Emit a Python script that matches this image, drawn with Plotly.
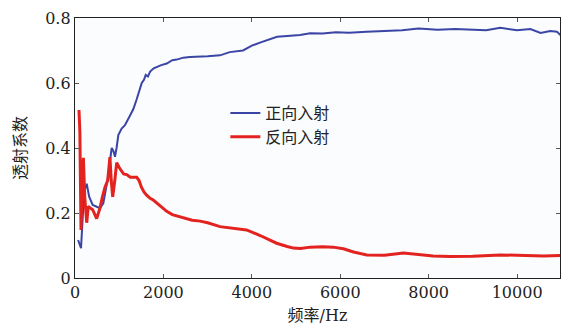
import plotly.graph_objects as go

# Forward incidence (正向入射) transmission coefficient vs frequency
freq_fwd = [70, 100, 136, 180, 220, 265, 320, 400, 490, 565, 640, 700, 760, 800,
            830, 870, 905, 940, 980, 1055, 1130, 1245, 1320, 1395, 1460, 1510,
            1560, 1600, 1650, 1700, 1780, 1850, 1950, 2075, 2200, 2300, 2450,
            2600, 2830, 3000, 3280, 3500, 3800, 4000, 4200, 4400, 4570, 4800,
            5090, 5320, 5600, 5900, 6200, 6600, 7000, 7400, 7770, 8200, 8600,
            8940, 9300, 9620, 10000, 10300, 10530, 10750, 10900, 11000]
trans_fwd = [0.117, 0.105, 0.092, 0.20, 0.27, 0.29, 0.25, 0.225, 0.22, 0.215,
             0.23, 0.28, 0.32, 0.37, 0.40, 0.39, 0.373, 0.40, 0.44, 0.46, 0.47,
             0.50, 0.52, 0.55, 0.58, 0.60, 0.61, 0.625, 0.62, 0.635, 0.645,
             0.65, 0.655, 0.66, 0.67, 0.672, 0.678, 0.68, 0.68, 0.682, 0.685,
             0.695, 0.70, 0.715, 0.725, 0.735, 0.742, 0.745, 0.748, 0.753,
             0.752, 0.756, 0.755, 0.758, 0.76, 0.762, 0.768, 0.764, 0.766,
             0.765, 0.762, 0.770, 0.762, 0.766, 0.754, 0.76, 0.758, 0.745]

# Reverse incidence (反向入射) transmission coefficient vs frequency
freq_rev = [90, 110, 136, 160, 190, 220, 265, 300, 350, 400, 490, 565, 620, 680,
            740, 790, 820, 853, 900, 943, 1000, 1100, 1170, 1250, 1395, 1450,
            1500, 1560, 1620, 1700, 1770, 1850, 1950, 2075, 2200, 2375, 2500,
            2650, 2830, 3000, 3280, 3500, 3880, 4200, 4560, 4800, 4940, 5100,
            5320, 5600, 5840, 6070, 6300, 6600, 7000, 7430, 7800, 8100, 8480,
            9000, 9620, 10200, 10600, 10970]
trans_rev = [0.517, 0.45, 0.148, 0.30, 0.37, 0.25, 0.17, 0.22, 0.215, 0.21,
             0.183, 0.215, 0.25, 0.28, 0.30, 0.372, 0.30, 0.25, 0.30, 0.355,
             0.34, 0.32, 0.318, 0.31, 0.31, 0.30, 0.28, 0.265, 0.255, 0.245,
             0.24, 0.23, 0.22, 0.205, 0.195, 0.188, 0.182, 0.178, 0.175, 0.17,
             0.158, 0.155, 0.148, 0.13, 0.107, 0.097, 0.092, 0.091, 0.095,
             0.096, 0.095, 0.09, 0.08, 0.071, 0.07, 0.077, 0.072, 0.068, 0.066,
             0.067, 0.071, 0.069, 0.068, 0.069]

x_ticks = [0, 2000, 4000, 6000, 8000, 10000]
x_tick_text = ["0", "2000", "4000", "6000", "8000", "10000"]
y_ticks = [0, 0.2, 0.4, 0.6, 0.8]
y_tick_text = ["0", "0.2", "0.4", "0.6", "0.8"]

FONT = "DejaVu Serif, Noto Sans CJK SC, serif"

fig = go.Figure()
fig.add_trace(go.Scatter(x=freq_fwd, y=trans_fwd, mode="lines", name="正向入射",
                         line=dict(color="#3b45a6", width=2)))
fig.add_trace(go.Scatter(x=freq_rev, y=trans_rev, mode="lines", name="反向入射",
                         line=dict(color="#e3231f", width=3)))

axis_common = dict(showline=True, linecolor="#222", linewidth=1.3, mirror="ticks",
                   ticks="inside", ticklen=4, tickcolor="#555", showgrid=False,
                   zeroline=False, tickfont=dict(family=FONT, size=16, color="#222"))

fig.update_layout(
    width=566, height=329,
    margin=dict(l=75, r=6, t=18, b=51),
    paper_bgcolor="white", plot_bgcolor="#fbfcfd",
    font=dict(family=FONT, color="#222"),
    xaxis=dict(range=[0, 10970], tickvals=x_ticks, ticktext=x_tick_text,
               title=dict(text="频率/Hz", font=dict(family=FONT, size=16), standoff=8),
               **axis_common),
    yaxis=dict(range=[0, 0.8], tickvals=y_ticks, ticktext=y_tick_text,
               title=dict(text="透射系数", font=dict(family=FONT, size=16), standoff=14),
               **axis_common),
    legend=dict(x=0.31, y=0.70, xanchor="left", yanchor="top",
                bgcolor="rgba(0,0,0,0)", font=dict(family=FONT, size=16),
                tracegroupgap=0, itemwidth=30),
    showlegend=True,
)

fig.write_html("out.html")
